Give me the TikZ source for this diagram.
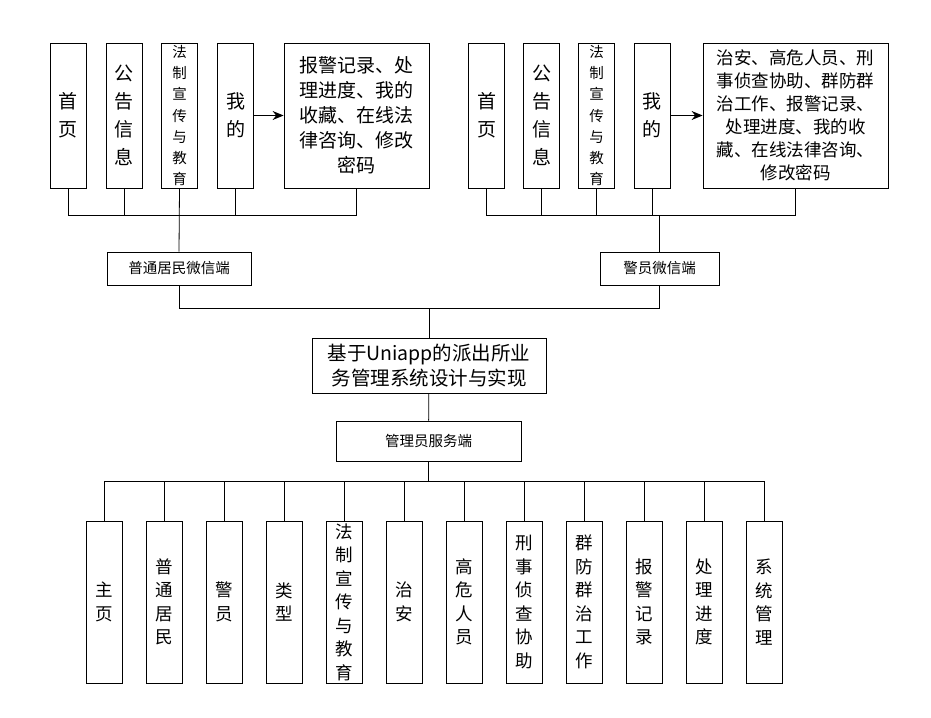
\documentclass[tikz,border=0pt]{standalone}
\usepackage{fontspec}
\setmainfont{Noto Sans CJK SC}
\usetikzlibrary{positioning,arrows.meta}

\begin{document}
\begin{tikzpicture}
[
x=1pt,y=-1pt,
line width=0.8pt,
vbox/.style={draw,rectangle,inner sep=0pt,minimum width=36pt,minimum height=145pt,align=center,font=\fontsize{19}{28}\selectfont},
vsmall/.style={vbox,font=\fontsize{14.5}{21.3}\selectfont},
fbox/.style={vbox,minimum height=162pt,font=\fontsize{17.5}{23.5}\selectfont},
tbox/.style={draw,rectangle,inner sep=0pt,align=center},
harrow/.style={-{Stealth[length=11pt,width=9pt]},line width=1pt},
]
\useasboundingbox (0,0) rectangle (931,717);

%Place the nodes
\node[vbox] (ha) at (68,115.5) {首\\页};
\node[vbox] (ga) at (124,115.5) {公\\告\\信\\息};
\node[vsmall] (fa) at (179.5,115.5) {法\\制\\宣\\传\\与\\教\\育};
\node[vbox] (ma) at (235.5,115.5) {我\\的};
\node[tbox,minimum width=145pt,minimum height=145pt,font=\fontsize{19}{25}\selectfont] (ra) at (356.5,115.5)
  {报警记录、处\\理进度、我的\\收藏、在线法\\律咨询、修改\\密码};
\node[vbox] (hb) at (486.5,115.5) {首\\页};
\node[vbox] (gb) at (541.5,115.5) {公\\告\\信\\息};
\node[vsmall] (fb) at (596.5,115.5) {法\\制\\宣\\传\\与\\教\\育};
\node[vbox] (mb) at (652,115.5) {我\\的};
\node[tbox,minimum width=185pt,minimum height=145pt,font=\fontsize{17.5}{23}\selectfont] (rb) at (795.5,115.5)
  {治安、高危人员、刑\\事侦查协助、群防群\\治工作、报警记录、\\处理进度、我的收\\藏、在线法律咨询、\\修改密码};
\node[tbox,minimum width=144pt,minimum height=33pt,font=\fontsize{14.5}{17}\selectfont] (ua) at (179,268.5) {普通居民微信端};
\node[tbox,minimum width=119pt,minimum height=33pt,font=\fontsize{14.5}{17}\selectfont] (ub) at (659.5,268.5) {警员微信端};
\node[tbox,minimum width=234pt,minimum height=55pt,font=\fontsize{19.5}{25}\selectfont] (sys) at (429,365.5)
  {基于Uniapp的派出所业\\务管理系统设计与实现};
\node[tbox,minimum width=185pt,minimum height=40pt,font=\fontsize{14.5}{17}\selectfont] (adm) at (428.5,441) {管理员服务端};
\node[fbox] (b1) at (104,602) {主\\页};
\node[fbox] (b2) at (164,602) {普\\通\\居\\民};
\node[fbox] (b3) at (224,602) {警\\员};
\node[fbox] (b4) at (284,602) {类\\型};
\node[fbox] (b5) at (344,602) {法\\制\\宣\\传\\与\\教\\育};
\node[fbox] (b6) at (404,602) {治\\安};
\node[fbox] (b7) at (464,602) {高\\危\\人\\员};
\node[fbox] (b8) at (524,602) {刑\\事\\侦\\查\\协\\助};
\node[fbox] (b9) at (584,602) {群\\防\\群\\治\\工\\作};
\node[fbox] (b10) at (644,602) {报\\警\\记\\录};
\node[fbox] (b11) at (704,602) {处\\理\\进\\度};
\node[fbox] (b12) at (764,602) {系\\统\\管\\理};
\coordinate (busa) at (0,215);
\coordinate (busm) at (0,308);
\coordinate (busb) at (0,481);

%Draw the connections
\draw[harrow] (ma) -- (ra);
\draw[harrow] (mb) -- (rb);
\draw (ha.south) -- (ha.south |- busa) -- (ra.south |- busa) -- (ra.south);
\draw (ga.south) -- (ga.south |- busa);
\draw (ma.south) -- (ma.south |- busa);
\draw (fa.south) -- (ua.north);
\draw (hb.south) -- (hb.south |- busa) -- (rb.south |- busa) -- (rb.south);
\draw (gb.south) -- (gb.south |- busa);
\draw (fb.south) -- (fb.south |- busa);
\draw (mb.south) -- (mb.south |- busa);
\draw (ub.north) -- (ub.north |- busa);
\draw (ua.south) -- (ua.south |- busm) -- (ub.south |- busm) -- (ub.south);
\draw (sys.north |- busm) -- (sys.north);
\draw (sys) -- (adm);
\draw (adm.south) -- (adm.south |- busb);
\draw (b1.north) -- (b1.north |- busb) -- (b12.north |- busb) -- (b12.north);
\draw (b2.north) -- (b2.north |- busb);
\draw (b3.north) -- (b3.north |- busb);
\draw (b4.north) -- (b4.north |- busb);
\draw (b5.north) -- (b5.north |- busb);
\draw (b6.north) -- (b6.north |- busb);
\draw (b7.north) -- (b7.north |- busb);
\draw (b8.north) -- (b8.north |- busb);
\draw (b9.north) -- (b9.north |- busb);
\draw (b10.north) -- (b10.north |- busb);
\draw (b11.north) -- (b11.north |- busb);
\end{tikzpicture}
\end{document}
